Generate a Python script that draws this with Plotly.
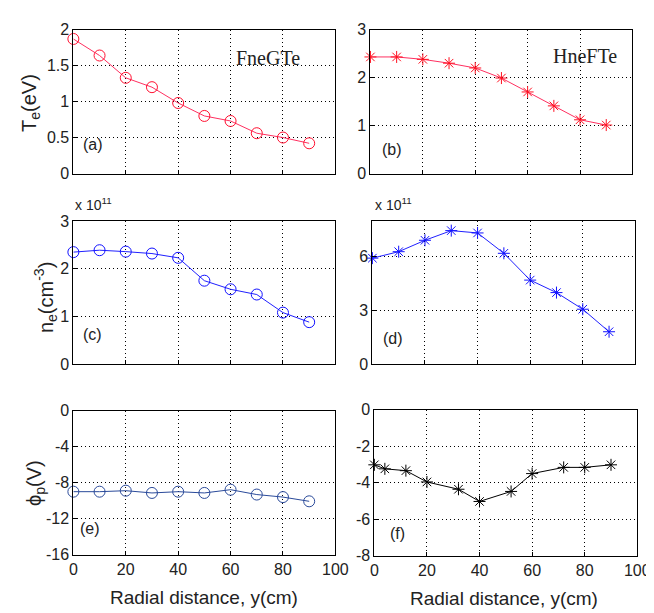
import plotly.graph_objects as go

W, H = 654, 613

# ---- data ----
x_std = [0, 10, 20, 30, 40, 50, 60, 70, 80, 90]
x_phi_h = [0, 4, 12, 20, 32, 40, 52, 60, 72, 80, 90]

te_fneg = [1.87, 1.64, 1.33, 1.20, 0.98, 0.80, 0.73, 0.56, 0.50, 0.42]
te_hnef = [2.43, 2.43, 2.38, 2.30, 2.20, 1.99, 1.70, 1.41, 1.12, 1.01]
ne_fneg = [2.35e11, 2.39e11, 2.36e11, 2.32e11, 2.23e11, 1.75e11, 1.57e11, 1.46e11, 1.08e11, 0.88e11]
ne_hnef = [5.93e11, 6.29e11, 6.93e11, 7.47e11, 7.34e11, 6.20e11, 4.70e11, 4.00e11, 3.07e11, 1.81e11]
phi_fneg = [-9.0, -9.0, -8.89, -9.14, -9.0, -9.14, -8.78, -9.32, -9.6, -10.07]
phi_hnef = [-3.02, -3.24, -3.34, -3.96, -4.36, -5.03, -4.48, -3.50, -3.16, -3.16, -3.02]

x_ticks = [0, 20, 40, 60, 80, 100]
te_a_ticks = [0, 0.5, 1, 1.5, 2]
te_b_ticks = [0, 1, 2, 3]
ne_c_ticks = [0, 1e11, 2e11, 3e11]
ne_d_ticks = [0, 3e11, 6e11]
phi_e_ticks = [0, -4, -8, -12, -16]
phi_f_ticks = [0, -2, -4, -6, -8]

FONT = "Liberation Sans, Arial, sans-serif"
SERIF = "Liberation Serif, Times New Roman, serif"

def fx(px):
    return px / W

def fy(py):
    return 1 - py / H

# panel pixel boxes: (left, right, top, bottom)
boxes = {
    1: (63, 332, 14, 162),
    2: (368, 637, 14, 162),
    3: (63, 332, 211, 358),
    4: (370, 640, 211, 358),
    5: (63, 332, 406, 554),
    6: (372, 642, 405, 555),
}

fig = go.Figure()

def add(idx, x, y, color, lcolor, symbol, msize):
    xa = "x" if idx == 1 else f"x{idx}"
    ya = "y" if idx == 1 else f"y{idx}"
    fig.add_trace(go.Scatter(
        x=x, y=y, mode="lines+markers", xaxis=xa, yaxis=ya,
        line=dict(color=lcolor, width=1),
        marker=dict(symbol=symbol, size=msize, color=color,
                    line=dict(color=color, width=1)),
        showlegend=False, cliponaxis=False))

add(1, x_std, te_fneg, "#ff1030", "#ff3060", "circle-open", 11)
add(2, x_std, te_hnef, "#ff1020", "#ff3060", "asterisk-open", 10)
add(3, x_std, ne_fneg, "#1010ff", "#2020ff", "circle-open", 11)
add(4, x_std, ne_hnef, "#1010ff", "#2020ff", "asterisk-open", 10)
add(5, x_std, phi_fneg, "#2a4a9a", "#2a4a9a", "circle-open", 11)
add(6, x_phi_h, phi_hnef, "#000000", "#000000", "asterisk-open", 10)

yspecs = {
    1: ([0, 2], te_a_ticks, [str(v) for v in te_a_ticks]),
    2: ([0, 3], te_b_ticks, [str(v) for v in te_b_ticks]),
    3: ([0, 3e11], ne_c_ticks, ["0", "1", "2", "3"]),
    4: ([0, 8e11], ne_d_ticks, ["0", "3", "6"]),
    5: ([-16, 0], phi_e_ticks, [str(v) for v in phi_e_ticks]),
    6: ([-8, 0], phi_f_ticks, [str(v) for v in phi_f_ticks]),
}

axis_common = dict(
    showline=True, linecolor="black", linewidth=1, mirror=True,
    showgrid=True, gridcolor="black", griddash="1px,3px", gridwidth=1,
    ticks="inside", ticklen=4, tickcolor="black", zeroline=False,
    tickfont=dict(family=FONT, size=16, color="#222"),
)

layout = {}
for i, (l, r, t, b) in boxes.items():
    xn = "xaxis" if i == 1 else f"xaxis{i}"
    yn = "yaxis" if i == 1 else f"yaxis{i}"
    ya = "y" if i == 1 else f"y{i}"
    xa = "x" if i == 1 else f"x{i}"
    yr, tv, tt = yspecs[i]
    layout[xn] = dict(axis_common, domain=[fx(l), fx(r)], range=[0, 100],
                      tickvals=x_ticks, ticktext=[str(v) for v in x_ticks],
                      showticklabels=(i >= 5), anchor=ya)
    layout[yn] = dict(axis_common, domain=[fy(b), fy(t)], range=yr,
                      tickvals=tv, ticktext=tt, anchor=xa)

fig.update_layout(**layout)

ann = []
def txt(px, py, s, size=16, family=FONT, angle=0, xanchor="center", yanchor="middle"):
    ann.append(dict(x=fx(px), y=fy(py), xref="paper", yref="paper", text=s,
                    showarrow=False, textangle=angle, xanchor=xanchor, yanchor=yanchor,
                    font=dict(family=family, size=size, color="#222")))

# y titles
txt(19, 90, "T<sub>e</sub>(eV)", size=20, angle=-90)
txt(35, 290, "n<sub>e</sub>(cm<sup>-3</sup>)", size=20, angle=-90)
txt(24, 480, "ϕ<sub>p</sub>(V)", size=20, angle=-90)
# x titles
txt(197, 598, "Radial distance, y(cm)", size=19)
txt(505, 599, "Radial distance, y(cm)", size=19)
# exponent labels
txt(63, 193, "x 10<sup>11</sup>", size=14, xanchor="left")
txt(371, 193, "x 10<sup>11</sup>", size=14, xanchor="left")
# series names
txt(263, 43, "FneGTe", size=20, family=SERIF)
txt(588, 41, "HneFTe", size=20, family=SERIF)
# panel letters
txt(83, 132, "(a)", size=16)
txt(390, 137, "(b)", size=16)
txt(83, 328, "(c)", size=16)
txt(391, 332, "(d)", size=16)
txt(80, 527, "(e)", size=16)
txt(396, 532, "(f)", size=16)

fig.update_layout(
    annotations=ann, width=W, height=H,
    margin=dict(l=0, r=0, t=0, b=0),
    paper_bgcolor="white", plot_bgcolor="white",
    font=dict(family=FONT, size=16),
)

fig.write_html("out.html", config={"displayModeBar": False})
